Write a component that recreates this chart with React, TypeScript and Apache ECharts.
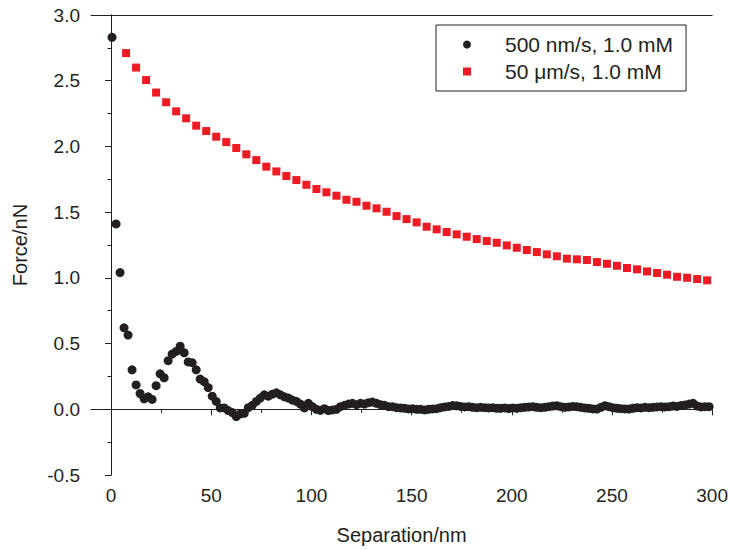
import React, { useEffect, useRef } from "react";
import * as echarts from "echarts";

const xTickValues = [0, 50, 100, 150, 200, 250, 300];
const xMinorTickValues = [25, 75, 125, 175, 225, 275];

const seriesNames = ["500 nm/s, 1.0 mM", "50 \u03bcm/s, 1.0 mM"];

// 500 nm/s, 1.0 mM : [separation nm, force nN]
const slowData: [number, number][] = [
  [0.5, 2.83], [2.5, 1.41], [4.5, 1.04], [6.5, 0.62], [8.5, 0.565], [10.5, 0.3],
  [12.5, 0.185], [14.5, 0.12], [16.5, 0.08], [18.5, 0.095], [20.5, 0.075], [22.5, 0.18],
  [24.5, 0.27], [26.5, 0.24], [28.5, 0.37], [30.5, 0.42], [32.5, 0.44], [34.5, 0.48],
  [36.5, 0.43], [38.5, 0.36], [40.5, 0.355], [42.5, 0.3], [44.5, 0.23], [46.5, 0.21],
  [48.5, 0.165], [50.5, 0.1], [52.5, 0.06], [54.5, 0.01], [56.5, 0.01], [58.5, -0.01],
  [60.5, -0.025], [62.5, -0.055], [64.5, -0.035], [66.5, -0.03], [68.5, 0.012], [70.5, 0.03],
  [72.5, 0.06], [74.5, 0.085], [76.5, 0.11], [78.5, 0.1], [80.5, 0.115], [82.5, 0.125],
  [84.5, 0.11], [86.5, 0.095], [88.5, 0.085], [90.5, 0.07], [92.5, 0.06], [94.5, 0.04],
  [96.5, 0.01], [98.5, 0.045], [100.5, 0.02], [102.5, 0.0], [104.5, -0.008], [106.5, 0.005],
  [108.5, -0.01], [110.5, -0.005], [112.5, 0.0], [114.5, 0.02], [116.5, 0.03], [118.5, 0.04],
  [120.5, 0.045], [122.5, 0.035], [124.5, 0.045], [126.5, 0.04], [128.5, 0.05], [130.5, 0.055],
  [132.5, 0.045], [134.5, 0.035], [136.5, 0.03], [138.5, 0.02], [140.5, 0.02], [142.5, 0.012],
  [144.5, 0.01], [146.5, 0.008], [148.5, 0.003], [150.5, 0.005], [152.5, 0.0], [154.5, 0.0],
  [156.5, -0.005], [158.5, 0.0], [160.5, 0.003], [162.5, 0.005], [164.5, 0.012], [166.5, 0.018],
  [168.5, 0.022], [170.5, 0.028], [172.5, 0.027], [174.5, 0.022], [176.5, 0.018], [178.5, 0.02],
  [180.5, 0.015], [182.5, 0.012], [184.5, 0.015], [186.5, 0.012], [188.5, 0.01], [190.5, 0.012],
  [192.5, 0.008], [194.5, 0.007], [196.5, 0.01], [198.5, 0.006], [200.5, 0.01], [202.5, 0.007],
  [204.5, 0.012], [206.5, 0.015], [208.5, 0.018], [210.5, 0.02], [212.5, 0.015], [214.5, 0.012],
  [216.5, 0.015], [218.5, 0.02], [220.5, 0.025], [222.5, 0.027], [224.5, 0.02], [226.5, 0.015],
  [228.5, 0.018], [230.5, 0.022], [232.5, 0.02], [234.5, 0.015], [236.5, 0.01], [238.5, 0.008],
  [240.5, 0.003], [242.5, 0.002], [244.5, 0.015], [246.5, 0.027], [248.5, 0.02], [250.5, 0.012],
  [252.5, 0.008], [254.5, 0.005], [256.5, 0.003], [258.5, 0.002], [260.5, 0.008], [262.5, 0.012],
  [264.5, 0.01], [266.5, 0.015], [268.5, 0.012], [270.5, 0.015], [272.5, 0.018], [274.5, 0.02],
  [276.5, 0.018], [278.5, 0.02], [280.5, 0.025], [282.5, 0.022], [284.5, 0.028], [286.5, 0.032],
  [288.5, 0.04], [290.5, 0.045], [292.5, 0.025], [294.5, 0.018], [296.5, 0.02], [298.5, 0.02],
];

// 50 µm/s, 1.0 mM : [separation nm, force nN]
const fastData: [number, number][] = [
  [7.5, 2.71], [12.5, 2.6], [17.5, 2.505], [22.5, 2.41], [27.5, 2.336], [32.5, 2.267],
  [37.5, 2.214], [42.5, 2.158], [47.5, 2.117], [52.5, 2.074], [57.5, 2.033], [62.5, 1.988],
  [67.5, 1.94], [72.5, 1.896], [77.5, 1.846], [82.5, 1.81], [87.5, 1.775], [92.5, 1.744],
  [97.5, 1.708], [102.5, 1.676], [107.5, 1.651], [112.5, 1.625], [117.5, 1.594], [122.5, 1.579],
  [127.5, 1.549], [132.5, 1.529], [137.5, 1.503], [142.5, 1.47], [147.5, 1.447], [152.5, 1.422],
  [157.5, 1.389], [162.5, 1.369], [167.5, 1.349], [172.5, 1.331], [177.5, 1.313], [182.5, 1.295],
  [187.5, 1.28], [192.5, 1.267], [197.5, 1.247], [202.5, 1.229], [207.5, 1.212], [212.5, 1.196],
  [217.5, 1.179], [222.5, 1.164], [227.5, 1.146], [232.5, 1.141], [237.5, 1.136], [242.5, 1.12],
  [247.5, 1.107], [252.5, 1.092], [257.5, 1.075], [262.5, 1.065], [267.5, 1.049], [272.5, 1.037],
  [277.5, 1.024], [282.5, 1.008], [287.5, 1.001], [292.5, 0.991], [297.5, 0.981],
];

const FONT = "'Liberation Sans', Arial, sans-serif";
const INK = "#231f20";
const RED = "#ed1c24";

export default function App() {
  const ref = useRef<HTMLDivElement>(null);
  useEffect(() => {
    if (!ref.current) return;
    const chart = echarts.init(ref.current, undefined, { renderer: "svg" });
    const axisLine = { show: true, lineStyle: { color: INK, width: 1 } };
    chart.setOption({
      animation: false,
      backgroundColor: "#ffffff",
      textStyle: { fontFamily: FONT },
      grid: { left: 91, right: 18, top: 15, bottom: 75, containLabel: false },
      legend: {
        orient: "vertical",
        left: 436,
        top: 25,
        padding: [9, 13, 9, 27],
        itemGap: 6,
        itemWidth: 8,
        itemHeight: 8,
        borderColor: INK,
        borderWidth: 1,
        backgroundColor: "#ffffff",
        textStyle: { fontFamily: FONT, fontSize: 21, color: INK, padding: [0, 0, 0, 29] },
        data: [
          { name: seriesNames[0], icon: "circle" },
          { name: seriesNames[1], icon: "rect" },
        ],
      },
      xAxis: [
        {
          type: "value",
          min: -10,
          max: 300,
          position: "bottom",
          name: "Separation/nm",
          nameLocation: "middle",
          nameGap: 50,
          nameTextStyle: { fontFamily: FONT, fontSize: 20, color: INK },
          axisLine,
          axisTick: { show: true, inside: false, length: 6, customValues: xTickValues, lineStyle: { color: INK } },
          axisLabel: { show: true, customValues: xTickValues, margin: 11, fontFamily: FONT, fontSize: 19, color: INK },
          splitLine: { show: false },
        },
        {
          type: "value",
          min: -10,
          max: 300,
          position: "bottom",
          axisLine: { show: false },
          axisTick: { show: true, inside: false, length: 3.5, customValues: xMinorTickValues, lineStyle: { color: INK } },
          axisLabel: { show: false },
          splitLine: { show: false },
        },
        {
          type: "value",
          min: -10,
          max: 300,
          position: "top",
          axisLine,
          axisTick: { show: false },
          axisLabel: { show: false },
          splitLine: { show: false },
        },
      ],
      yAxis: [
        {
          type: "value",
          min: -0.5,
          max: 3,
          interval: 0.5,
          position: "left",
          name: "Force/nN",
          nameLocation: "middle",
          nameGap: 61,
          nameTextStyle: { fontFamily: FONT, fontSize: 20, color: INK },
          axisLine,
          axisTick: { show: true, inside: false, length: 6, lineStyle: { color: INK } },
          minorTick: { show: true, splitNumber: 2, length: 3.5, lineStyle: { color: INK } },
          axisLabel: {
            margin: 11,
            fontFamily: FONT,
            fontSize: 19,
            color: INK,
            formatter: (v: number) => v.toFixed(1),
          },
          splitLine: { show: false },
        },
        {
          type: "value",
          min: -0.5,
          max: 3,
          position: "right",
          axisLine,
          axisTick: { show: false },
          axisLabel: { show: false },
          splitLine: { show: false },
        },
      ],
      series: [
        {
          name: seriesNames[0],
          type: "scatter",
          xAxisIndex: 0,
          yAxisIndex: 0,
          symbol: "circle",
          symbolSize: 9,
          itemStyle: { color: INK, opacity: 1 },
          data: slowData,
          z: 3,
        },
        {
          name: seriesNames[1],
          type: "scatter",
          xAxisIndex: 0,
          yAxisIndex: 0,
          symbol: "rect",
          symbolSize: 8,
          itemStyle: { color: RED, opacity: 1 },
          data: fastData,
          z: 2,
        },
      ],
    });
    return () => chart.dispose();
  }, []);
  return (
    <div
      ref={ref}
      style={{ position: "absolute", left: 0, top: 0, width: 731, height: 550 }}
    />
  );
}
